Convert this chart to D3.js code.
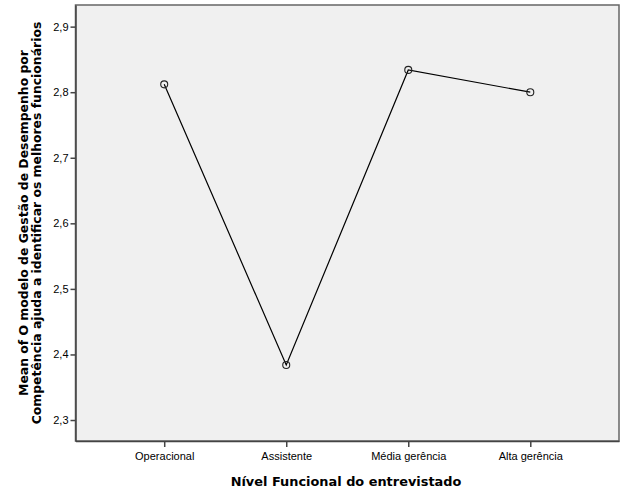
<!DOCTYPE html>
<html><head><meta charset="utf-8">
<script src="https://cdn.jsdelivr.net/npm/d3@7"></script>
<style>body{margin:0;background:#fff}</style>
</head><body>
<svg id="c" width="626" height="501"></svg>
<script>
const categories = ["Operacional","Assistente","Média gerência","Alta gerência"];
const values = [2.812, 2.384, 2.834, 2.800];
const yTicks = [2.3,2.4,2.5,2.6,2.7,2.8,2.9];
const xTitle = "Nível Funcional do entrevistado";
const yTitle = ["Mean of O modelo de Gestão de Desempenho por","Competência ajuda a identificar os melhores funcionários"];

const svg = d3.select("#c");
const L=75.5, R=619, T=5, B=441;
const x = d3.scalePoint().domain(categories).range([L,R]).padding(0.727);
const y = d3.scaleLinear().domain([2.268,2.933]).range([B,T]);

svg.append("rect").attr("x",L).attr("y",T).attr("width",R-L).attr("height",B-T)
  .attr("fill","#f0f0f0").attr("stroke","#666").attr("stroke-width",1.5);

const fmt = d=>d3.format(".1f")(d).replace(".",",");
const ya = svg.append("g").attr("transform",`translate(${L},0)`)
  .call(d3.axisLeft(y).tickValues(yTicks).tickFormat(fmt).tickSize(5).tickSizeOuter(0).tickPadding(2));
ya.select(".domain").attr("stroke","#444").attr("stroke-width",1.5);
ya.selectAll(".tick line").attr("stroke","#444").attr("stroke-width",1.5);
ya.selectAll("text").attr("font-family","Liberation Sans, Arial").attr("font-size",11).attr("fill","#000");

const xa = svg.append("g").attr("transform",`translate(0,${B})`)
  .call(d3.axisBottom(x).tickSize(6).tickSizeOuter(0).tickPadding(5));
xa.select(".domain").attr("stroke","#444").attr("stroke-width",1.5);
xa.selectAll(".tick line").attr("stroke","#444").attr("stroke-width",1.5);
xa.selectAll("text").attr("font-family","Liberation Sans, Arial").attr("font-size",11).attr("fill","#000");

const line = d3.line().x((d,i)=>x(categories[i])).y(d=>y(d));
svg.append("path").datum(values).attr("d",line).attr("fill","none").attr("stroke","#000").attr("stroke-width",1.2);
svg.selectAll("circle.p").data(values).enter().append("circle")
  .attr("cx",(d,i)=>x(categories[i])).attr("cy",d=>y(d)).attr("r",3.5)
  .attr("fill","none").attr("stroke","#222").attr("stroke-width",1.1);

svg.append("text").attr("x",346).attr("y",486).attr("text-anchor","middle")
  .attr("font-family","DejaVu Sans").attr("font-weight","bold").attr("font-size",12.9).text(xTitle);

const yt = svg.append("text").attr("transform",`translate(0,${(T+B)/2}) rotate(-90)`)
  .attr("text-anchor","middle").attr("font-family","DejaVu Sans").attr("font-weight","bold").attr("font-size",12.4);
yt.append("tspan").attr("x",0).attr("y",28).text(yTitle[0]);
yt.append("tspan").attr("x",0).attr("y",41).text(yTitle[1]);
</script>
</body></html>
